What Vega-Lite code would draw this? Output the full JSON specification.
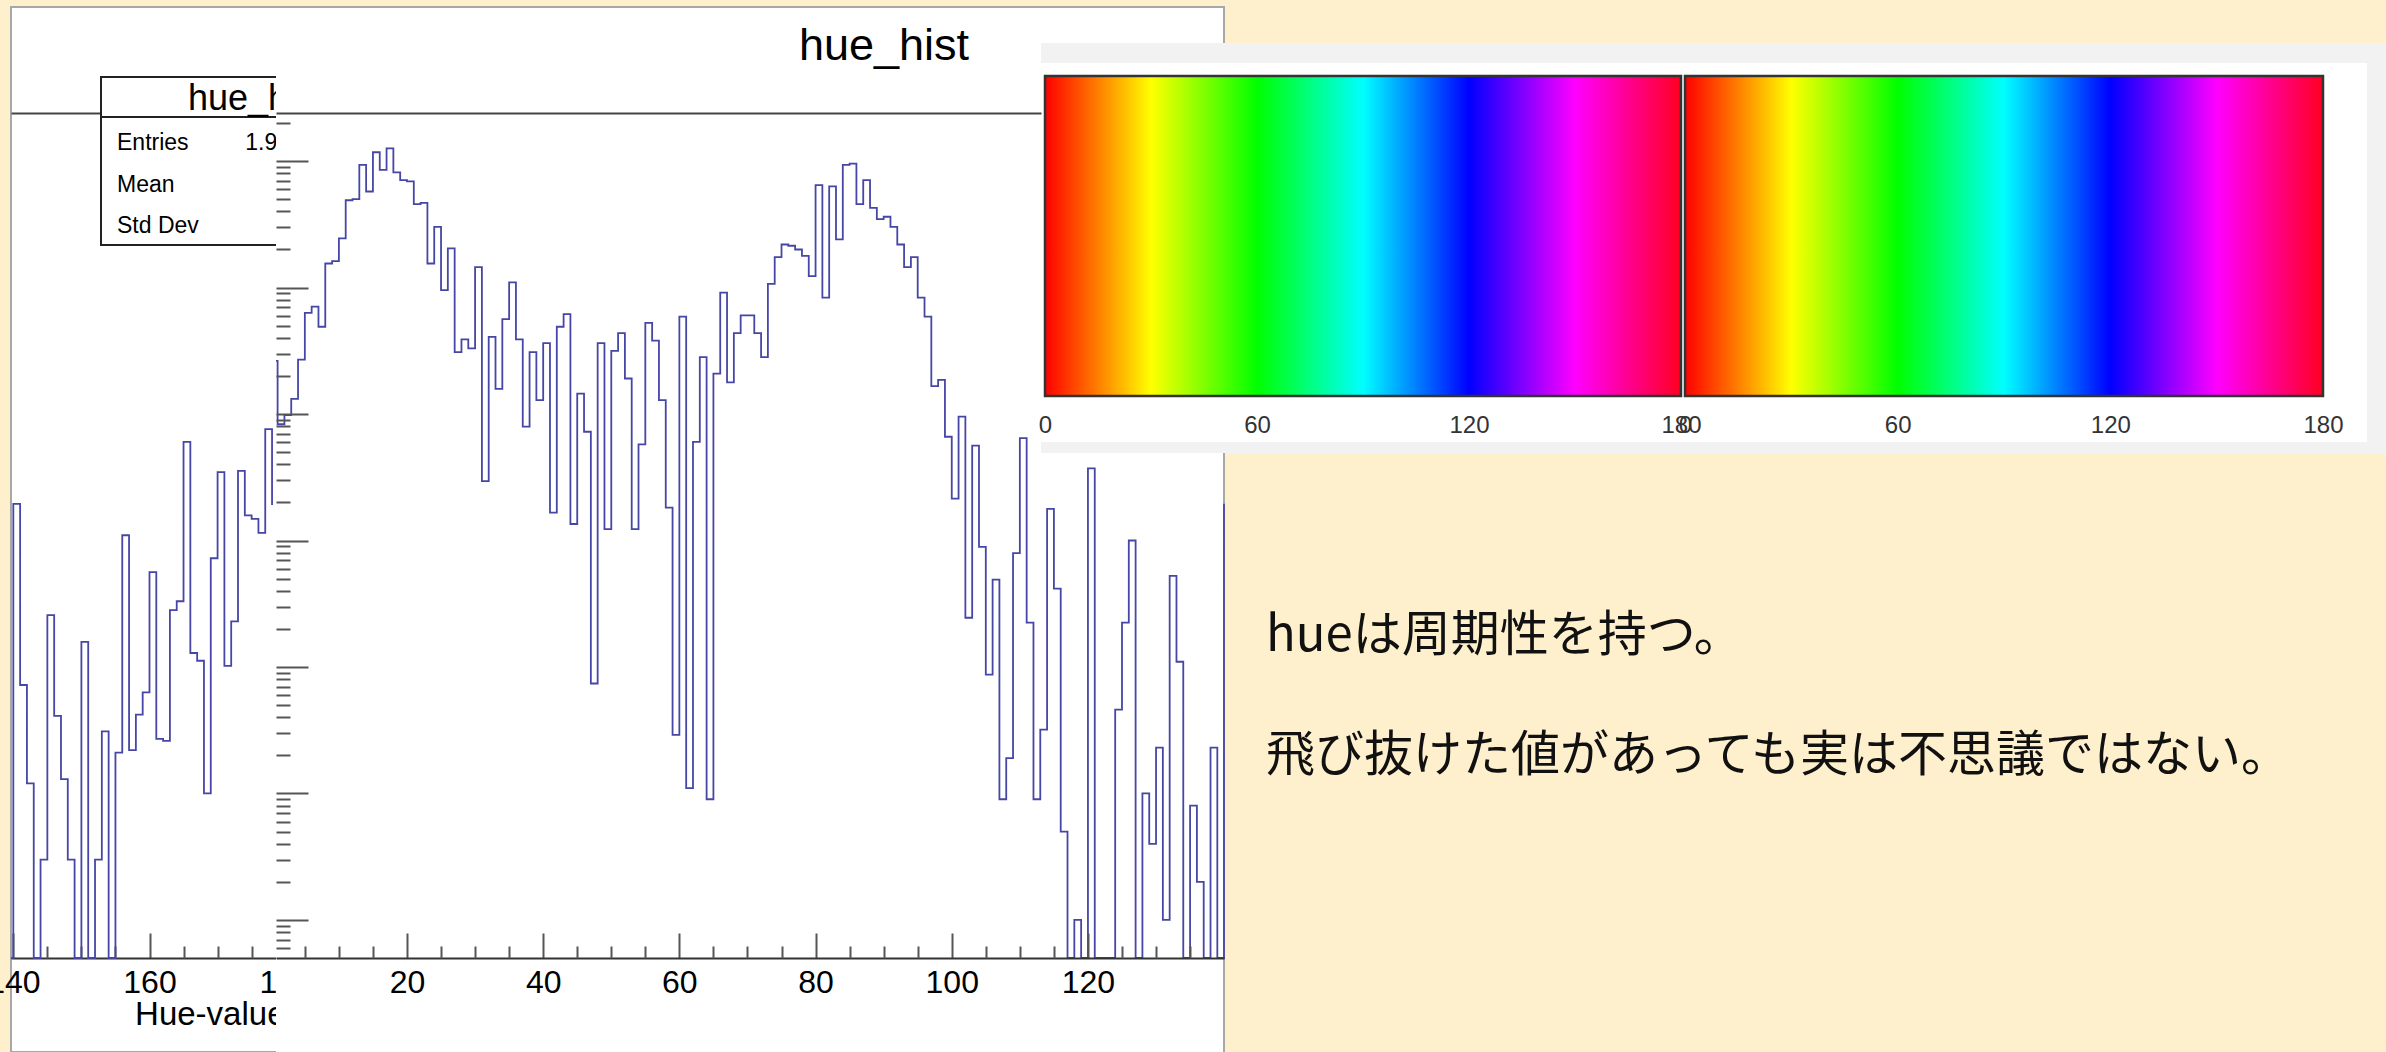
{
"$schema": "https://vega.github.io/schema/vega-lite/v6.json",
"width": 1213,
"height": 1045,
"autosize": {"type": "none"},
"padding": {"left": 11, "top": 7, "right": 1162, "bottom": 0},
"background": "#fef0cd",
"config": {
  "view": {"fill": "#ffffff", "stroke": "#a8a8a8", "strokeWidth": 2},
  "axis": {"grid": false, "labelFont": "Liberation Sans", "labelFontSize": 32, "labelColor": "#000000", "tickColor": "#555555", "tickWidth": 2, "domainColor": "#333333", "domainWidth": 2, "labelFlush": false, "labelOverlap": false},
  "text": {"font": "Liberation Sans", "color": "#000000"}
},
"datasets": {
  "hist": [
    {"hue":0,"count":26300},{"hue":1,"count":8300},{"hue":2,"count":9800},{"hue":3,"count":13200},{"hue":4,"count":26900},
    {"hue":5,"count":63100},{"hue":6,"count":70800},{"hue":7,"count":49000},{"hue":8,"count":155000},{"hue":9,"count":162000},
    {"hue":10,"count":245000},{"hue":11,"count":490000},{"hue":12,"count":501000},{"hue":13,"count":933000},{"hue":14,"count":575000},
    {"hue":15,"count":1175000},{"hue":16,"count":851000},{"hue":17,"count":1259000},{"hue":18,"count":813000},{"hue":19,"count":708000},
    {"hue":20,"count":692000},{"hue":21,"count":457000},{"hue":22,"count":468000},{"hue":23,"count":155000},{"hue":24,"count":302000},
    {"hue":25,"count":95500},{"hue":26,"count":204000},{"hue":27,"count":30900},{"hue":28,"count":38900},{"hue":29,"count":33100},
    {"hue":30,"count":145000},{"hue":31,"count":2950},{"hue":32,"count":40700},{"hue":33,"count":15800},{"hue":34,"count":56200},
    {"hue":35,"count":110000},{"hue":36,"count":38900},{"hue":37,"count":7940},{"hue":38,"count":30900},{"hue":39,"count":12900},
    {"hue":40,"count":36300},{"hue":41,"count":1660},{"hue":42,"count":49000},{"hue":43,"count":61700},{"hue":44,"count":1350},
    {"hue":45,"count":14500},{"hue":46,"count":7240},{"hue":47,"count":74},{"hue":48,"count":36300},{"hue":49,"count":1230},
    {"hue":50,"count":31600},{"hue":51,"count":43700},{"hue":52,"count":19100},{"hue":53,"count":1230},{"hue":54,"count":5750},
    {"hue":55,"count":52500},{"hue":56,"count":38000},{"hue":57,"count":12900},{"hue":58,"count":1820},{"hue":59,"count":29},
    {"hue":60,"count":58900},{"hue":61,"count":11},{"hue":62,"count":6030},{"hue":63,"count":28200},{"hue":64,"count":9},
    {"hue":65,"count":20900},{"hue":66,"count":91200},{"hue":67,"count":17800},{"hue":68,"count":43700},{"hue":69,"count":60300},
    {"hue":70,"count":60300},{"hue":71,"count":43700},{"hue":72,"count":28200},{"hue":73,"count":107000},{"hue":74,"count":174000},
    {"hue":75,"count":219000},{"hue":76,"count":214000},{"hue":77,"count":200000},{"hue":78,"count":178000},{"hue":79,"count":123000},
    {"hue":80,"count":646000},{"hue":81,"count":83200},{"hue":82,"count":631000},{"hue":83,"count":240000},{"hue":84,"count":933000},
    {"hue":85,"count":955000},{"hue":86,"count":457000},{"hue":87,"count":708000},{"hue":88,"count":427000},{"hue":89,"count":347000},
    {"hue":90,"count":363000},{"hue":91,"count":302000},{"hue":92,"count":219000},{"hue":93,"count":145000},{"hue":94,"count":174000},
    {"hue":95,"count":83200},{"hue":96,"count":58900},{"hue":97,"count":16600},{"hue":98,"count":18600},{"hue":99,"count":6610},
    {"hue":100,"count":2140},{"hue":101,"count":9550},{"hue":102,"count":245},{"hue":103,"count":5620},{"hue":104,"count":891},
    {"hue":105,"count":87},{"hue":106,"count":490},{"hue":107,"count":9},{"hue":108,"count":19},{"hue":109,"count":794},
    {"hue":110,"count":6460},{"hue":111,"count":224},{"hue":112,"count":9},{"hue":113,"count":32},{"hue":114,"count":1780},
    {"hue":115,"count":417},{"hue":116,"count":5},{"hue":117,"count":0},{"hue":118,"count":1},{"hue":119,"count":0},
    {"hue":120,"count":3720},{"hue":121,"count":0},{"hue":122,"count":0},{"hue":123,"count":0},{"hue":124,"count":46},
    {"hue":125,"count":224},{"hue":126,"count":1000},{"hue":127,"count":0},{"hue":128,"count":10},{"hue":129,"count":4},
    {"hue":130,"count":23},{"hue":131,"count":1},{"hue":132,"count":525},{"hue":133,"count":110},{"hue":134,"count":0},
    {"hue":135,"count":8},{"hue":136,"count":2},{"hue":137,"count":0},{"hue":138,"count":23},{"hue":139,"count":0},
    {"hue":140,"count":1950},{"hue":141,"count":72},{"hue":142,"count":12},{"hue":143,"count":0},{"hue":144,"count":3},
    {"hue":145,"count":257},{"hue":146,"count":41},{"hue":147,"count":13},{"hue":148,"count":3},{"hue":149,"count":0},
    {"hue":150,"count":158},{"hue":151,"count":0},{"hue":152,"count":3},{"hue":153,"count":31},{"hue":154,"count":0},
    {"hue":155,"count":21},{"hue":156,"count":1100},{"hue":157,"count":22},{"hue":158,"count":42},{"hue":159,"count":63},
    {"hue":160,"count":562},{"hue":161,"count":27},{"hue":162,"count":26},{"hue":163,"count":282},{"hue":164,"count":331},
    {"hue":165,"count":6030},{"hue":166,"count":129},{"hue":167,"count":112},{"hue":168,"count":10},{"hue":169,"count":724},
    {"hue":170,"count":3470},{"hue":171,"count":102},{"hue":172,"count":229},{"hue":173,"count":3550},{"hue":174,"count":1580},
    {"hue":175,"count":1480},{"hue":176,"count":1150},{"hue":177,"count":7590},{"hue":178,"count":1910}
  ],
  "stats": [
    {"box": "stats", "stat": "Entries", "value": "1.925316e+07"},
    {"box": "stats", "stat": "Mean", "value": "50.36"},
    {"box": "stats", "stat": "Std Dev", "value": "34.29"}
  ],
  "panel": [{"part": "frame"}],
  "titles": [{"title": "hue_hist"}],
  "colorbar": [{"bar": "hue", "lo": 0, "hi": 180}],
  "note": [
    {"block": "note", "line": "1", "text": "hueは周期性を持つ。"},
    {"block": "note", "line": "2", "text": "飛び抜けた値があっても実は不思議ではない。"}
  ]
},
"layer": [
  {
    "data": {"name": "hist"},
    "transform": [{"filter": "datum.hue >= 139 && datum.hue <= 178"}],
    "mark": {"type": "line", "interpolate": "step-after", "color": "#4646a6", "strokeWidth": 1.8},
    "encoding": {
      "x": {"field": "hue", "type": "quantitative", "scale": {"domain": [139.66, 178.58], "range": [0, 265], "clamp": true, "nice": false, "zero": false},
            "axis": {"orient": "top", "offset": -106, "labels": false, "ticks": false, "title": null, "domainColor": "#444444"}},
      "y": {"field": "count", "type": "quantitative", "scale": {"type": "log", "domain": [0.5, 2400000], "range": [951, 106], "clamp": true, "nice": false}, "axis": null}
    }
  },
  {
    "data": {"name": "hist"},
    "mark": {"type": "point", "opacity": 0},
    "encoding": {
      "x": {"field": "hue", "type": "quantitative", "scale": {"domain": [139.66, 180], "range": [0, 274.7], "nice": false, "zero": false},
            "axis": {"orient": "bottom", "offset": -94, "values": [140, 160, 180], "tickSize": -25, "labelPadding": 34, "title": "Hue-value", "titleX": 274, "titleY": 40, "titleAlign": "right", "titleBaseline": "top", "titleFont": "Liberation Sans", "titleFontSize": 33, "titleFontWeight": "normal", "titleColor": "#000000"}}
    }
  },
  {
    "data": {"name": "hist"},
    "mark": {"type": "point", "opacity": 0},
    "encoding": {
      "x": {"field": "hue", "type": "quantitative", "scale": {"domain": [139.66, 178.58], "range": [0, 265], "nice": false, "zero": false},
            "axis": {"orient": "bottom", "offset": -94, "values": [145, 150, 155, 165, 170, 175], "tickSize": -12, "labels": false, "domain": false, "title": null}}
    }
  },
  {
    "data": {"name": "panel"},
    "mark": {"type": "rect", "fill": "#ffffff", "stroke": "#222222", "strokeWidth": 2},
    "encoding": {
      "x": {"field": "part", "type": "nominal", "scale": {"type": "band", "range": [90, 340], "paddingInner": 0, "paddingOuter": 0}, "axis": null},
      "y": {"field": "part", "type": "nominal", "scale": {"type": "band", "range": [70, 110], "paddingInner": 0, "paddingOuter": 0}, "axis": null}
    }
  },
  {
    "data": {"name": "panel"},
    "mark": {"type": "rect", "fill": "#ffffff", "stroke": "#222222", "strokeWidth": 2},
    "encoding": {
      "x": {"field": "part", "type": "nominal", "scale": {"type": "band", "range": [90, 340], "paddingInner": 0, "paddingOuter": 0}, "axis": null},
      "y": {"field": "part", "type": "nominal", "scale": {"type": "band", "range": [110, 238], "paddingInner": 0, "paddingOuter": 0}, "axis": null}
    }
  },
  {
    "data": {"name": "titles"},
    "mark": {"type": "text", "fontSize": 36, "align": "center", "baseline": "alphabetic"},
    "encoding": {
      "x": {"field": "title", "type": "nominal", "scale": {"type": "point", "range": [245, 245]}, "axis": null},
      "y": {"field": "title", "type": "nominal", "scale": {"type": "point", "range": [103, 103]}, "axis": null},
      "text": {"field": "title"}
    }
  },
  {
    "data": {"name": "stats"},
    "mark": {"type": "text", "fontSize": 23, "align": "left", "baseline": "alphabetic"},
    "encoding": {
      "x": {"field": "box", "type": "nominal", "scale": {"type": "point", "range": [106, 106]}, "axis": null},
      "y": {"field": "stat", "type": "nominal", "sort": null, "scale": {"type": "point", "range": [143, 226], "padding": 0}, "axis": null},
      "text": {"field": "stat"}
    }
  },
  {
    "data": {"name": "stats"},
    "mark": {"type": "text", "fontSize": 23, "align": "right", "baseline": "alphabetic"},
    "encoding": {
      "x": {"field": "box", "type": "nominal", "scale": {"type": "point", "range": [382, 382]}, "axis": null},
      "y": {"field": "stat", "type": "nominal", "sort": null, "scale": {"type": "point", "range": [143, 226], "padding": 0}, "axis": null},
      "text": {"field": "value"}
    }
  },
  {
    "data": {"name": "panel"},
    "mark": {"type": "rect", "fill": "#ffffff"},
    "encoding": {
      "x": {"field": "part", "type": "nominal", "scale": {"type": "band", "range": [265, 1212], "paddingInner": 0, "paddingOuter": 0}, "axis": null},
      "y": {"field": "part", "type": "nominal", "scale": {"type": "band", "range": [1, 1045], "paddingInner": 0, "paddingOuter": 0}, "axis": null}
    }
  },
  {
    "data": {"name": "hist"},
    "transform": [{"filter": "datum.hue <= 140"}],
    "mark": {"type": "line", "interpolate": "step-after", "color": "#4646a6", "strokeWidth": 1.8},
    "encoding": {
      "x": {"field": "hue", "type": "quantitative", "scale": {"domain": [0.764, 139.98], "range": [265, 1213], "clamp": true, "nice": false, "zero": false},
            "axis": {"orient": "bottom", "offset": -94, "values": [20, 40, 60, 80, 100, 120], "tickSize": -25, "labelPadding": 34, "title": null, "zindex": 1}},
      "y": {"field": "count", "type": "quantitative", "scale": {"type": "log", "domain": [0.5, 2400000], "range": [951, 106], "clamp": true, "nice": false},
            "axis": {"orient": "left", "offset": -265, "values": [1, 10, 100, 1000, 10000, 100000, 1000000], "tickSize": -32, "labels": false, "domain": false, "title": null, "zindex": 1}}
    }
  },
  {
    "data": {"name": "hist"},
    "mark": {"type": "point", "opacity": 0},
    "encoding": {
      "x": {"field": "hue", "type": "quantitative", "scale": {"domain": [0.764, 139.98], "range": [265, 1213], "nice": false, "zero": false},
            "axis": {"orient": "bottom", "offset": -94, "values": [5, 10, 15, 25, 30, 35, 45, 50, 55, 65, 70, 75, 85, 90, 95, 105, 110, 115, 125, 130, 135], "tickSize": -12, "labels": false, "domain": false, "title": null, "zindex": 1}},
      "y": {"field": "count", "type": "quantitative", "scale": {"type": "log", "domain": [0.5, 2400000], "range": [951, 106], "clamp": true, "nice": false},
            "axis": {"orient": "left", "offset": -265, "values": [0.6, 0.7, 0.8, 0.9, 2, 3, 4, 5, 6, 7, 8, 9, 20, 30, 40, 50, 60, 70, 80, 90, 200, 300, 400, 500, 600, 700, 800, 900, 2000, 3000, 4000, 5000, 6000, 7000, 8000, 9000, 20000, 30000, 40000, 50000, 60000, 70000, 80000, 90000, 200000, 300000, 400000, 500000, 600000, 700000, 800000, 900000, 2000000], "tickSize": -14, "labels": false, "domain": false, "title": null, "zindex": 1}}
    }
  },
  {
    "data": {"name": "hist"},
    "mark": {"type": "point", "opacity": 0},
    "encoding": {
      "x": {"field": "hue", "type": "quantitative", "scale": {"domain": [0.764, 113.1], "range": [265, 1030], "nice": false, "zero": false},
            "axis": {"orient": "top", "offset": -106, "labels": false, "ticks": false, "title": null, "zindex": 1, "domainColor": "#444444"}}
    }
  },
  {
    "data": {"name": "titles"},
    "mark": {"type": "text", "fontSize": 45, "align": "center", "baseline": "alphabetic"},
    "encoding": {
      "x": {"field": "title", "type": "nominal", "scale": {"type": "point", "range": [873, 873]}, "axis": null},
      "y": {"field": "title", "type": "nominal", "scale": {"type": "point", "range": [53, 53]}, "axis": null},
      "text": {"field": "title"}
    }
  },
  {
    "data": {"name": "panel"},
    "mark": {"type": "rect", "fill": "#f2f2f2"},
    "encoding": {
      "x": {"field": "part", "type": "nominal", "scale": {"type": "band", "range": [1030, 2375], "paddingInner": 0, "paddingOuter": 0}, "axis": null},
      "y": {"field": "part", "type": "nominal", "scale": {"type": "band", "range": [36, 446], "paddingInner": 0, "paddingOuter": 0}, "axis": null}
    }
  },
  {
    "data": {"name": "panel"},
    "mark": {"type": "rect", "fill": "#ffffff"},
    "encoding": {
      "x": {"field": "part", "type": "nominal", "scale": {"type": "band", "range": [1030, 2356], "paddingInner": 0, "paddingOuter": 0}, "axis": null},
      "y": {"field": "part", "type": "nominal", "scale": {"type": "band", "range": [56, 435], "paddingInner": 0, "paddingOuter": 0}, "axis": null}
    }
  },
  {
    "data": {"name": "colorbar"},
    "mark": {"type": "rect", "stroke": "#333333", "strokeWidth": 2.5,
      "fill": {"gradient": "linear", "x1": 0, "y1": 0, "x2": 1, "y2": 0, "stops": [
        {"offset": 0, "color": "#ff0000"}, {"offset": 0.1667, "color": "#ffff00"}, {"offset": 0.3333, "color": "#00ff00"},
        {"offset": 0.5, "color": "#00ffff"}, {"offset": 0.6667, "color": "#0000ff"}, {"offset": 0.8333, "color": "#ff00ff"}, {"offset": 1, "color": "#ff0022"}]}},
    "encoding": {
      "x": {"field": "lo", "type": "quantitative", "scale": {"domain": [0, 180], "range": [1034, 1670], "nice": false, "zero": false},
            "axis": {"orient": "bottom", "offset": -656, "values": [0, 60, 120, 180], "ticks": false, "tickSize": 0, "domain": false, "labelPadding": 17, "labelFont": "Liberation Sans", "labelFontSize": 24, "labelColor": "#333333", "title": null, "zindex": 1}},
      "x2": {"field": "hi"},
      "y": {"field": "bar", "type": "nominal", "scale": {"type": "band", "range": [69, 389], "paddingInner": 0, "paddingOuter": 0}, "axis": null}
    }
  },
  {
    "data": {"name": "colorbar"},
    "mark": {"type": "rect", "stroke": "#333333", "strokeWidth": 2.5,
      "fill": {"gradient": "linear", "x1": 0, "y1": 0, "x2": 1, "y2": 0, "stops": [
        {"offset": 0, "color": "#ff0000"}, {"offset": 0.1667, "color": "#ffff00"}, {"offset": 0.3333, "color": "#00ff00"},
        {"offset": 0.5, "color": "#00ffff"}, {"offset": 0.6667, "color": "#0000ff"}, {"offset": 0.8333, "color": "#ff00ff"}, {"offset": 1, "color": "#ff0022"}]}},
    "encoding": {
      "x": {"field": "lo", "type": "quantitative", "scale": {"domain": [0, 180], "range": [1674, 2312], "nice": false, "zero": false},
            "axis": {"orient": "bottom", "offset": -656, "values": [0, 60, 120, 180], "ticks": false, "tickSize": 0, "domain": false, "labelPadding": 17, "labelFont": "Liberation Sans", "labelFontSize": 24, "labelColor": "#333333", "title": null, "zindex": 1}},
      "x2": {"field": "hi"},
      "y": {"field": "bar", "type": "nominal", "scale": {"type": "band", "range": [69, 389], "paddingInner": 0, "paddingOuter": 0}, "axis": null}
    }
  },
  {
    "data": {"name": "note"},
    "mark": {"type": "text", "font": "Noto Sans CJK JP", "fontSize": 49, "align": "left", "baseline": "middle", "color": "#111111"},
    "encoding": {
      "x": {"field": "block", "type": "nominal", "scale": {"type": "point", "range": [1255, 1255]}, "axis": null},
      "y": {"field": "line", "type": "nominal", "sort": null, "scale": {"type": "point", "range": [629, 749], "padding": 0}, "axis": null},
      "text": {"field": "text"}
    }
  }
],
"resolve": {"scale": {"x": "independent", "y": "independent"}, "axis": {"x": "independent", "y": "independent"}}
}
